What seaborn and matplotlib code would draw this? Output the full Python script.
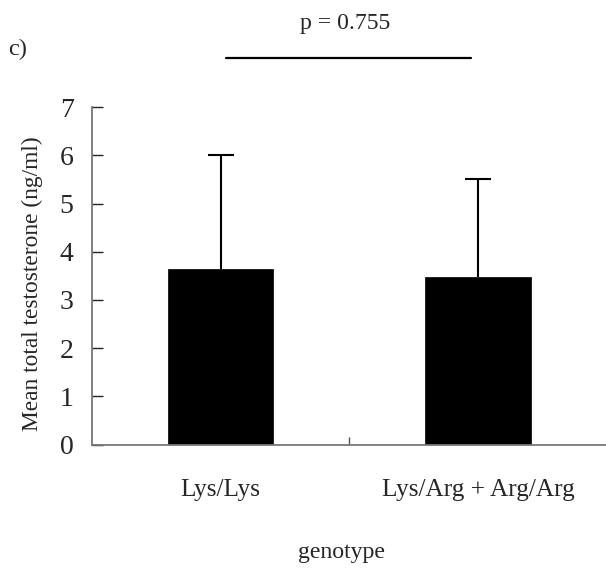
import matplotlib
matplotlib.use("Agg")
import matplotlib.pyplot as plt
import matplotlib.transforms as mtransforms
import numpy as np
import seaborn as sns
import pandas as pd

categories = ["Lys/Lys", "Lys/Arg + Arg/Arg"]
means = [3.65, 3.48]
sd_upper = [2.37, 2.04]
y_ticks = [0, 1, 2, 3, 4, 5, 6, 7]
p_text = "p = 0.755"
panel_label = "c)"
x_title = "genotype"
y_title = "Mean total testosterone (ng/ml)"

sns.set_theme(style="white")
plt.rcParams["font.family"] = ["Liberation Serif", "DejaVu Serif"]

df = pd.DataFrame({"genotype": categories, "mean": means})

W, H = 606, 569
fig = plt.figure(figsize=(W / 100, H / 100), dpi=100)
ax = fig.add_axes([91.7 / W, 1 - 444.5 / H, 1 - 91.7 / W + 0.002, (444.5 - 107.3) / H])

sns.barplot(data=df, x="genotype", y="mean", color="black", width=0.41,
            saturation=1, errorbar=None, ax=ax, edgecolor="black", linewidth=0.5)
eb = ax.errorbar(x=range(len(categories)), y=means,
                 yerr=[[0] * len(categories), sd_upper],
                 fmt="none", ecolor="black", elinewidth=1.5, capsize=9.4, capthick=1.5)
for cl in eb[1]:
    if np.allclose(cl.get_ydata(), means):
        cl.set_visible(False)

ax.set_xlim(-0.5, 1.5)
ax.set_ylim(0, 7)
ax.set_yticks(y_ticks)
ax.set_yticklabels([str(t) for t in y_ticks], fontsize=20)
ax.set_xticks([0.5])
ax.set_xticklabels([""])
ax.tick_params(axis="y", direction="in", length=8, width=1, color="#222222", pad=13, left=True)
ax.tick_params(axis="x", direction="in", length=6, width=1, color="#555555", bottom=True)
ax.set_xlabel("")
ax.set_ylabel("")

for s in ["top", "right"]:
    ax.spines[s].set_visible(False)
for s in ["left", "bottom"]:
    ax.spines[s].set_color("#777777")
    ax.spines[s].set_linewidth(1.3)

renderer = fig.canvas.get_renderer()


def fit(t, target_px, vertical=False):
    fs = t.get_fontsize()
    for _ in range(3):
        bb = t.get_window_extent(renderer)
        size = bb.height if vertical else bb.width
        fs = fs * target_px / size
        t.set_fontsize(fs)
    return fs


blend = mtransforms.blended_transform_factory(ax.transData, fig.transFigure)
cat_texts = []
for i, c in enumerate(categories):
    cat_texts.append(ax.text(i, 1 - 496 / H, c, ha="center", va="baseline",
                             fontsize=18, transform=blend))
fs_cat = fit(cat_texts[0], 80)
for t in cat_texts[1:]:
    t.set_fontsize(fs_cat)

gt = fig.text(341 / W, 1 - 558 / H, x_title, ha="center", va="baseline", fontsize=17)
fit(gt, 87)
pt = fig.text(345.5 / W, 1 - 29.3 / H, p_text, ha="center", va="baseline", fontsize=16)
fit(pt, 91)
ct = fig.text(17.5 / W, 1 - 55 / H, panel_label, ha="center", va="baseline", fontsize=16)
fit(ct, 19)
yt = fig.text(32.7 / W, 1 - 283.5 / H, y_title, ha="center", va="center",
              rotation=90, fontsize=15)
fit(yt, 293, vertical=True)

fig.add_artist(plt.Line2D([226 / W, 470.7 / W], [1 - 58.3 / H, 1 - 58.3 / H],
                          color="black", linewidth=1.6))

fig.savefig("out.png", dpi=100)
